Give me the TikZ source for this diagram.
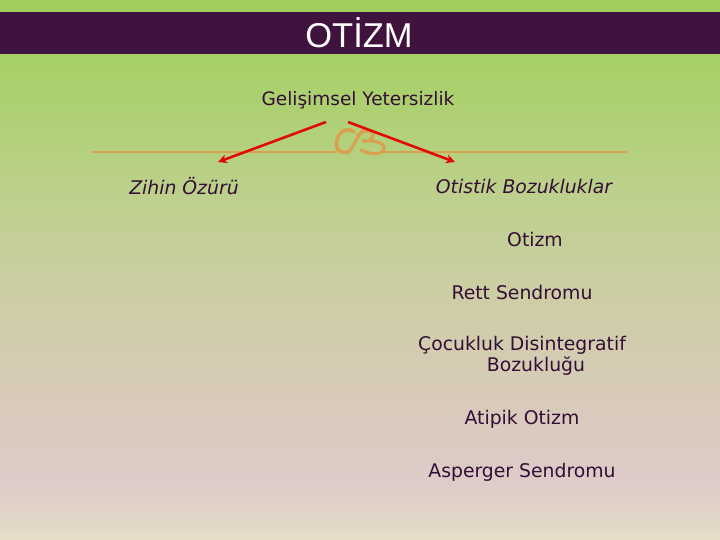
\documentclass[tikz,border=0pt]{standalone}
\usepackage{fontspec}
\setmainfont{DejaVu Sans}
\newfontfamily\titlefont{Liberation Sans}
\usetikzlibrary{arrows.meta}
\definecolor{bgA}{RGB}{162,207,92}
\definecolor{bgB}{RGB}{172,208,112}
\definecolor{bgC}{RGB}{190,208,142}
\definecolor{bgD}{RGB}{206,205,166}
\definecolor{bgE}{RGB}{216,203,186}
\definecolor{bgF}{RGB}{221,203,200}
\definecolor{bgG}{RGB}{226,214,200}
\definecolor{bgH}{RGB}{231,222,200}
\definecolor{barcol}{RGB}{64,19,63}
\definecolor{txtcol}{RGB}{52,14,54}
\definecolor{orncol}{RGB}{217,160,80}
\definecolor{arrcol}{RGB}{225,10,5}
\tikzset{
  lbl/.style={text=txtcol, inner sep=0pt, anchor=center, font=\fontsize{18.8}{21}\selectfont},
  ilbl/.style={lbl, font=\fontsize{18.8}{21}\selectfont\itshape},
  redarrow/.style={draw=arrcol, line width=2.6pt, -{Stealth[length=9pt,width=9pt]}},
  ornline/.style={draw=orncol, line width=1.4pt},
}
\begin{document}
\begin{tikzpicture}[x=1pt,y=-1pt]
\useasboundingbox (0,0) rectangle (720,540);
% background
\shade[top color=bgA,bottom color=bgB] (0,0) rectangle (720,100.5);
\shade[top color=bgB,bottom color=bgC] (0,100) rectangle (720,200.5);
\shade[top color=bgC,bottom color=bgD] (0,200) rectangle (720,300.5);
\shade[top color=bgD,bottom color=bgE] (0,300) rectangle (720,400.5);
\shade[top color=bgE,bottom color=bgF] (0,400) rectangle (720,480.5);
\shade[top color=bgF,bottom color=bgG] (0,480) rectangle (720,520.5);
\shade[top color=bgG,bottom color=bgH] (0,520) rectangle (720,540);
% title bar
\fill[barcol] (0,12) rectangle (720,54);
\node[text=white, inner sep=0pt, font=\titlefont\fontsize{34.5}{38}\selectfont] (title) at (359,33) {OTİZM};
% separator line and ornament
\coordinate (l1) at (92,152);
\coordinate (l2) at (337,152);
\coordinate (r1) at (383,152);
\coordinate (r2) at (627,152);
\draw[ornline] (l1) -- (l2);
\draw[ornline] (r1) -- (r2);
\draw[orncol, line width=3.6pt, line cap=round]
  (354,132) .. controls (348,127) and (340,130) .. (337,140)
  .. controls (334,150) and (342,155) .. (350,151);
\draw[orncol, line width=3pt, line cap=round]
  (350,151) .. controls (354,144) and (358,136) .. (364,129)
  (357,136) .. controls (363,130) and (373,129) .. (373,135)
  .. controls (373,141) and (366,142) .. (362,141)
  .. controls (373,140) and (385,142) .. (384,149)
  .. controls (383,155) and (370,155) .. (361,150);
% labels
\node[lbl, font=\fontsize{18.5}{21}\selectfont] (gel) at (358,100) {Gelişimsel Yetersizlik};
\node[ilbl] (zih) at (184,186) {Zihin Özürü};
\node[ilbl] (oti) at (524,186) {Otistik Bozukluklar};
\node[lbl] (otz) at (535,239) {Otizm};
\node[lbl] (ret) at (522,292) {Rett Sendromu};
\node[lbl, align=center] (coc) at (522,356) {Çocukluk Disintegratif\\\hspace*{28pt}Bozukluğu};
\node[lbl] (ati) at (522,419) {Atipik Otizm};
\node[lbl] (asp) at (522,472) {Asperger Sendromu};
% arrows
\coordinate (a1) at (326,122);
\coordinate (a2) at (348,122);
\coordinate (t1) at (218,162);
\coordinate (t2) at (455,162);
\draw[redarrow] (a1) -- (t1);
\draw[redarrow] (a2) -- (t2);
\end{tikzpicture}
\end{document}
